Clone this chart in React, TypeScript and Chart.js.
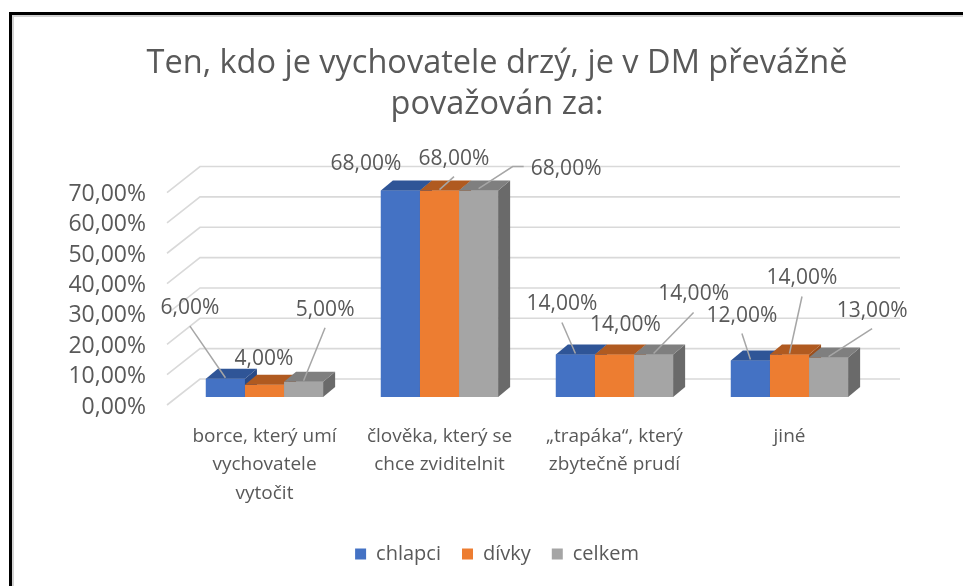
import React, { useEffect, useRef } from 'react';
import { Chart, registerables } from 'chart.js';

Chart.register(...registerables);

// ---- data ----
const TITLE_LINES = ['Ten, kdo je vychovatele drzý, je v DM převážně', 'považován za:'];
const CATEGORIES: string[][] = [
  ['borce, který umí', 'vychovatele', 'vytočit'],
  ['člověka, který se', 'chce zviditelnit'],
  ['„trapáka“, který', 'zbytečně prudí'],
  ['jiné'],
];
const SERIES_NAMES = ['chlapci', 'dívky', 'celkem'];
const CHLAPCI = [6, 68, 14, 12];
const DIVKY = [4, 68, 14, 14];
const CELKEM = [5, 68, 14, 13];
const Y_MIN = 0;
const Y_MAX = 70;
const Y_STEP = 10;

// ---- styles / layout ----
const FONT = "'Open Sans', sans-serif";
const TEXT = '#595959';
const FRONT = ['#4472C4', '#ED7D31', '#A5A5A5'];
const TOP = ['#2F5597', '#B05A20', '#7F7F7F'];
const SIDE = ['#2A4B88', '#9C4F1C', '#6A6A6A'];
const DX = 12;
const DY = -10;
const BOX_LEFT = 117; // left bound used to centre title and legend

// data label offsets relative to each bar's front-top centre, and leader kind
const LABEL_OFFSETS: [number, number][][] = [
  [[-35.5, -70.6], [-34.5, -27], [-13.5, -50], [-8.5, -45]],
  [[-0.5, -26], [14.5, -32], [11, -29], [12.5, -76]],
  [[21.5, -72], [87.5, -22], [40, -60], [43.5, -47]],
];
const LEADERS: string[][] = [
  ['below', 'none', 'below', 'below'],
  ['none', 'below', 'none', 'below'],
  ['below', 'left', 'below', 'below'],
];

const fmt = (v: number) => v.toFixed(2).replace('.', ',') + '%';

const recentre = {
  id: 'recentre',
  afterLayout(chart: any) {
    const right = chart.chartArea.right;
    [chart.titleBlock, chart.legend].forEach((b: any) => {
      if (!b) return;
      b.left = BOX_LEFT;
      b.right = right;
      b.width = right - BOX_LEFT;
    });
  },
};

const grid3d = {
  id: 'grid3d',
  beforeDatasetsDraw(chart: any) {
    const { ctx, chartArea } = chart;
    const ys = chart.scales.y;
    ctx.save();
    ctx.strokeStyle = '#d9d9d9';
    ctx.lineWidth = 1.6;
    ys.ticks.forEach((t: any) => {
      const p = ys.getPixelForValue(t.value);
      ctx.beginPath();
      ctx.moveTo(chartArea.left - 10, p + 8);
      ctx.lineTo(chartArea.left + 23, p - 18);
      ctx.lineTo(chartArea.right + 23, p - 18);
      ctx.stroke();
    });
    ctx.restore();
  },
};

const bars3d = {
  id: 'bars3d',
  afterDatasetsDraw(chart: any) {
    const { ctx } = chart;
    ctx.save();
    chart.data.datasets.forEach((_ds: any, i: number) => {
      chart.getDatasetMeta(i).data.forEach((el: any) => {
        const { x, y, base, width } = el.getProps(['x', 'y', 'base', 'width'], true);
        const l = x - width / 2;
        const r = x + width / 2;
        ctx.fillStyle = FRONT[i];
        ctx.fillRect(l, y, width, base - y);
        ctx.fillStyle = SIDE[i];
        ctx.beginPath();
        ctx.moveTo(r, y);
        ctx.lineTo(r + DX, y + DY);
        ctx.lineTo(r + DX, base + DY);
        ctx.lineTo(r, base);
        ctx.closePath();
        ctx.fill();
        ctx.fillStyle = TOP[i];
        ctx.beginPath();
        ctx.moveTo(l, y);
        ctx.lineTo(r, y);
        ctx.lineTo(r + DX, y + DY);
        ctx.lineTo(l + DX, y + DY);
        ctx.closePath();
        ctx.fill();
      });
    });
    ctx.restore();
  },
};

const dataLabels = {
  id: 'dataLabels',
  afterDatasetsDraw(chart: any) {
    const { ctx } = chart;
    ctx.save();
    ctx.font = `21px ${FONT}`;
    ctx.textAlign = 'center';
    ctx.textBaseline = 'middle';
    chart.data.datasets.forEach((ds: any, i: number) => {
      const meta = chart.getDatasetMeta(i);
      meta.data.forEach((el: any, j: number) => {
        const { x, y } = el.getProps(['x', 'y'], true);
        const [ox, oy] = LABEL_OFFSETS[i][j];
        const cx = x + ox;
        const cy = y + oy;
        const txt = fmt(ds.data[j]);
        const kind = LEADERS[i][j];
        ctx.strokeStyle = '#a6a6a6';
        ctx.lineWidth = 1.5;
        if (kind === 'below') {
          ctx.beginPath();
          ctx.moveTo(cx, cy + 18);
          ctx.lineTo(x, y - 1);
          ctx.stroke();
        } else if (kind === 'left') {
          const w = ctx.measureText(txt).width;
          const sx = cx - w / 2 - 7;
          ctx.beginPath();
          ctx.moveTo(sx, cy - 2);
          ctx.lineTo(sx - 11, cy - 2);
          ctx.lineTo(x, y - 2);
          ctx.stroke();
        }
        ctx.fillStyle = TEXT;
        ctx.fillText(txt, cx, cy);
      });
    });
    ctx.restore();
  },
};

export default function App() {
  const ref = useRef<HTMLCanvasElement>(null);
  useEffect(() => {
    const values = [CHLAPCI, DIVKY, CELKEM];
    const chart = new Chart(ref.current as HTMLCanvasElement, {
      type: 'bar',
      data: {
        labels: CATEGORIES,
        datasets: SERIES_NAMES.map((name, i) => ({
          label: name,
          data: values[i],
          backgroundColor: FRONT[i],
          borderWidth: 0,
          categoryPercentage: 0.67,
          barPercentage: 1.0,
        })),
      },
      options: {
        responsive: false,
        animation: false,
        layout: { padding: { left: 20, right: 86, top: 43, bottom: 12 } },
        plugins: {
          title: {
            display: true,
            text: TITLE_LINES,
            color: TEXT,
            font: { family: FONT, size: 32.5, weight: 'normal', lineHeight: 1.27 },
            padding: { top: 0, bottom: 59 },
          },
          legend: {
            display: true,
            position: 'bottom',
            labels: {
              color: TEXT,
              font: { family: FONT, size: 20 },
              boxWidth: 11,
              boxHeight: 11,
              padding: 21,
            },
          },
          tooltip: { enabled: false },
        },
        scales: {
          x: {
            grid: { display: false, drawTicks: false },
            border: { display: false },
            ticks: {
              color: TEXT,
              font: { family: FONT, size: 19, lineHeight: 1.5 },
              padding: 25,
              maxRotation: 0,
              autoSkip: false,
            },
            afterFit: (s: any) => {
              s.height = 126;
            },
          },
          y: {
            min: Y_MIN,
            max: Y_MAX,
            grid: { display: false, drawTicks: false },
            border: { display: false },
            ticks: {
              stepSize: Y_STEP,
              autoSkip: false,
              color: TEXT,
              font: { family: FONT, size: 23, lineHeight: 1.1 },
              padding: 31,
              labelOffset: 10,
              callback: (v: any) => fmt(Number(v)),
            },
            afterFit: (s: any) => {
              s.width = 177 - 20;
            },
          },
        },
      },
      plugins: [recentre, grid3d, bars3d, dataLabels],
    } as any);
    return () => chart.destroy();
  }, []);

  return (
    <div style={{ position: 'fixed', left: 0, top: 0, width: 963, height: 586, background: '#fff', overflow: 'hidden' }}>
      <div
        style={{
          position: 'absolute',
          left: 9,
          top: 12,
          width: 1000,
          height: 700,
          borderTop: '3px solid #000',
          borderLeft: '3px solid #000',
        }}
      >
        <div
          style={{
            position: 'absolute',
            left: 0,
            top: 0,
            width: 1000,
            height: 700,
            borderTop: '2px solid #d2d2d2',
            borderLeft: '2px solid #d2d2d2',
          }}
        />
      </div>
      <canvas
        ref={ref}
        width={963}
        height={586}
        style={{ position: 'absolute', left: 0, top: 0, width: 963, height: 586 }}
      />
    </div>
  );
}
